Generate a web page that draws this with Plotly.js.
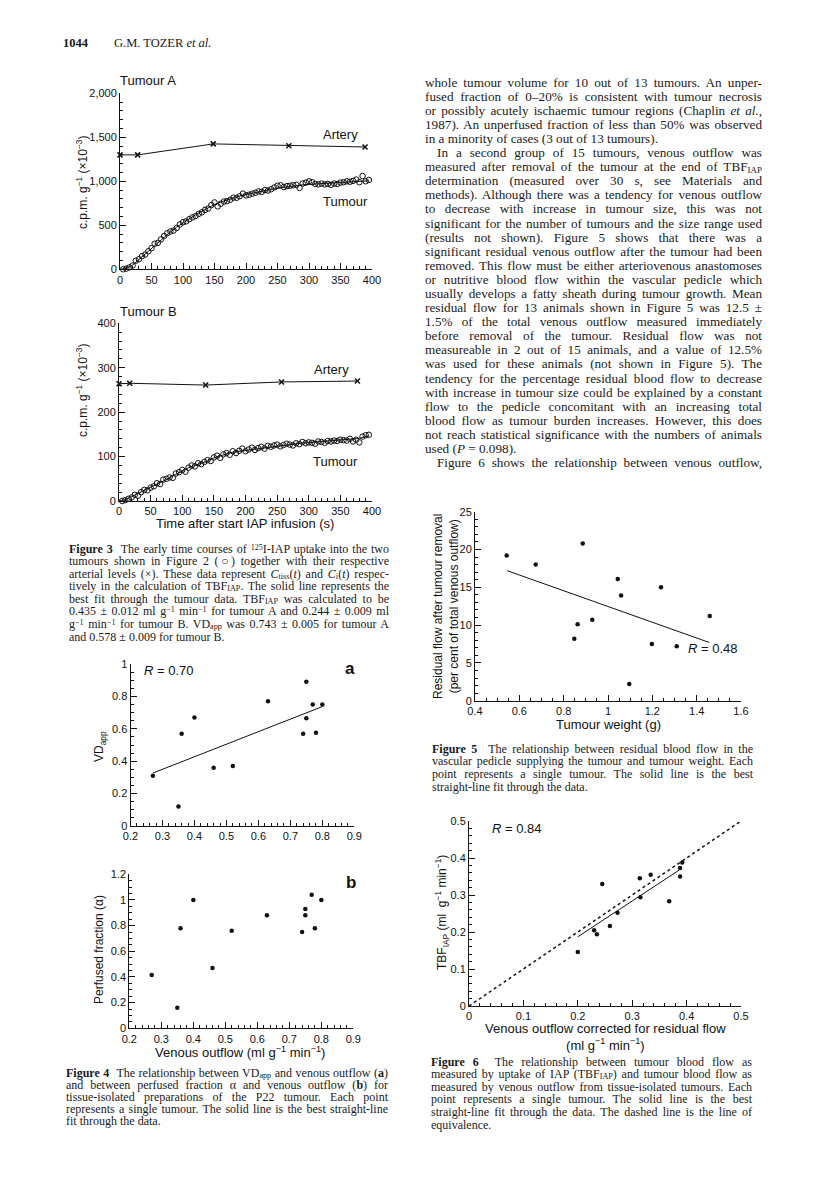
<!DOCTYPE html>
<html>
<head>
<meta charset="utf-8">
<script src="https://cdn.plot.ly/plotly-3.0.1.min.js"></script>
<style>
body { margin: 0; background: #fff; }
#page { position: relative; width: 816px; height: 1182px; overflow: hidden; }
#chart { position: absolute; left: 0; top: 0; width: 816px; height: 1182px; }
.txt { position: absolute; font-family: "Liberation Serif", "Times New Roman", serif; color: #1a1a1a; }
.txt div { white-space: nowrap; text-align: justify; text-align-last: justify; }
.txt div.end { text-align-last: left; }
.txt div.ind { padding-left: 12px; }
sub, sup { font-size: 68%; line-height: 0; }
sub { vertical-align: -0.18em; }
sup { vertical-align: 0.38em; }
</style>
</head>
<body>
<div id="page">
<div id="chart"></div>

<div class="txt" style="left:63px; top:36px; font-size:12.5px;"><b>1044</b><span style="padding-left:26px">G.M. TOZER <i>et al.</i></span></div>

<div class="txt" style="left:425px; top:75.6px; width:337px; font-size:13.2px; line-height:14.1px;">
<div>whole tumour volume for 10 out of 13 tumours. An unper-</div>
<div>fused fraction of 0–20% is consistent with tumour necrosis</div>
<div>or possibly acutely ischaemic tumour regions (Chaplin <i>et al.</i>,</div>
<div>1987). An unperfused fraction of less than 50% was observed</div>
<div class="end">in a minority of cases (3 out of 13 tumours).</div>
<div class="ind">In a second group of 15 tumours, venous outflow was</div>
<div>measured after removal of the tumour at the end of TBF<sub>IAP</sub></div>
<div>determination (measured over 30 s, see Materials and</div>
<div>methods). Although there was a tendency for venous outflow</div>
<div>to decrease with increase in tumour size, this was not</div>
<div>significant for the number of tumours and the size range used</div>
<div>(results not shown). Figure 5 shows that there was a</div>
<div>significant residual venous outflow after the tumour had been</div>
<div>removed. This flow must be either arteriovenous anastomoses</div>
<div>or nutritive blood flow within the vascular pedicle which</div>
<div>usually develops a fatty sheath during tumour growth. Mean</div>
<div>residual flow for 13 animals shown in Figure 5 was 12.5 ±</div>
<div>1.5% of the total venous outflow measured immediately</div>
<div>before removal of the tumour. Residual flow was not</div>
<div>measureable in 2 out of 15 animals, and a value of 12.5%</div>
<div>was used for these animals (not shown in Figure 5). The</div>
<div>tendency for the percentage residual blood flow to decrease</div>
<div>with increase in tumour size could be explained by a constant</div>
<div>flow to the pedicle concomitant with an increasing total</div>
<div>blood flow as tumour burden increases. However, this does</div>
<div>not reach statistical significance with the numbers of animals</div>
<div class="end">used (<i>P</i> = 0.098).</div>
<div class="ind">Figure 6 shows the relationship between venous outflow,</div>
</div>

<div class="txt" style="left:69px; top:542.5px; width:320px; font-size:12px; line-height:12.6px;">
<div><b>Figure 3</b>&nbsp;&nbsp;The early time courses of <sup>125</sup>I-IAP uptake into the two</div>
<div>tumours shown in Figure 2 (○) together with their respective</div>
<div>arterial levels (×). These data represent <i>C</i><sub>tiss</sub>(<i>t</i>) and <i>C</i><sub>i</sub>(<i>t</i>) respec-</div>
<div>tively in the calculation of TBF<sub>IAP</sub>. The solid line represents the</div>
<div>best fit through the tumour data. TBF<sub>IAP</sub> was calculated to be</div>
<div>0.435 ± 0.012 ml g<sup>−1</sup> min<sup>−1</sup> for tumour A and 0.244 ± 0.009 ml</div>
<div>g<sup>−1</sup> min<sup>−1</sup> for tumour B. VD<sub>app</sub> was 0.743 ± 0.005 for tumour A</div>
<div class="end">and 0.578 ± 0.009 for tumour B.</div>
</div>

<div class="txt" style="left:66px; top:1067px; width:322px; font-size:12px; line-height:12px;">
<div><b>Figure 4</b>&nbsp;&nbsp;The relationship between VD<sub>app</sub> and venous outflow (<b>a</b>)</div>
<div>and between perfused fraction α and venous outflow (<b>b</b>) for</div>
<div>tissue-isolated preparations of the P22 tumour. Each point</div>
<div>represents a single tumour. The solid line is the best straight-line</div>
<div class="end">fit through the data.</div>
</div>

<div class="txt" style="left:432px; top:742.6px; width:321px; font-size:12px; line-height:12.8px;">
<div><b>Figure 5</b>&nbsp;&nbsp;The relationship between residual blood flow in the</div>
<div>vascular pedicle supplying the tumour and tumour weight. Each</div>
<div>point represents a single tumour. The solid line is the best</div>
<div class="end">straight-line fit through the data.</div>
</div>

<div class="txt" style="left:431px; top:1055.7px; width:321px; font-size:12px; line-height:12.6px;">
<div><b>Figure 6</b>&nbsp;&nbsp;The relationship between tumour blood flow as</div>
<div>measured by uptake of IAP (TBF<sub>IAP</sub>) and tumour blood flow as</div>
<div>measured by venous outflow from tissue-isolated tumours. Each</div>
<div>point represents a single tumour. The solid line is the best</div>
<div>straight-line fit through the data. The dashed line is the line of</div>
<div class="end">equivalence.</div>
</div>
</div>

<script>
// Figure 3, tumour A (time in s, c.p.m. g-1 x10-3)
const timeA = [5,10,15,20,25,30,35,40,45,50,55,60,65,70,75,80,85,90,95,100,105,110,115,120,125,130,135,140,145,150,155,160,165,170,175,180,185,190,195,200,205,210,215,220,225,230,235,240,245,250,255,260,265,270,275,280,285,290,295,300,305,310,315,320,325,330,335,340,345,350,355,360,365,370,375,380,385,390,395];
const tumourA = [0,8,22,42,98,115,150,168,205,240,290,300,340,378,410,430,440,470,510,535,545,570,590,605,630,648,675,690,730,760,715,745,770,775,790,815,812,830,860,840,848,860,870,885,880,900,895,910,930,950,955,935,945,950,955,960,925,975,985,1000,990,970,965,975,965,970,960,975,970,985,990,1000,995,1005,1020,990,1060,1000,1015];
const fitTimeA = [0,10,20,30,40,50,60,70,80,90,100,110,120,130,140,150,160,170,180,190,200,210,220,230,240,250,260,270,280,290,300,310,320,330,340,350,360,370,380,390,395];
const fitA = [0,10,48,110,175,245,305,365,425,480,530,575,620,660,700,735,765,790,812,832,850,866,880,895,908,920,933,943,952,960,966,971,975,979,983,987,991,995,999,1003,1005];
const arteryTimeA = [0,28,148,268,389];
const arteryA = [1300,1300,1425,1405,1390];

// Figure 3, tumour B
const timeB = [5,10,15,20,25,30,35,40,45,50,55,60,65,70,75,80,85,90,95,100,105,110,115,120,125,130,135,140,145,150,155,160,165,170,175,180,185,190,195,200,205,210,215,220,225,230,235,240,245,250,255,260,265,270,275,280,285,290,295,300,305,310,315,320,325,330,335,340,345,350,355,360,365,370,375,380,385,390,395];
const tumourB = [0,2,5,8,14,12,20,25,24,30,33,40,38,48,50,53,52,62,65,70,66,75,80,78,85,83,88,92,90,98,102,97,105,108,104,112,108,113,118,112,116,120,115,119,122,118,124,122,125,127,123,126,129,127,125,130,128,133,130,132,131,129,134,133,131,135,134,136,135,138,137,136,140,134,138,132,145,148,149];
const fitTimeB = [0,10,20,30,40,50,60,70,80,90,100,110,120,130,140,150,160,170,180,190,200,210,220,230,240,250,260,270,280,290,300,310,320,330,340,350,360,370,380,390,395];
const fitB = [0,3,10,17,24,30,38,45,52,60,68,75,80,85,90,97,102,106,110,112,114,116,118,120,122,124,126,128,129,130.5,131.5,132.5,133.5,134.5,135.5,136.5,137.5,139,141,145,147];
const arteryTimeB = [0,17,137,257,377];
const arteryB = [264,265,261,268,270];

// Figure 4: venous outflow (ml g-1 min-1) vs VDapp (a) and perfused fraction (b)
const venous = [0.27,0.35,0.36,0.40,0.46,0.52,0.63,0.74,0.75,0.75,0.77,0.78,0.80];
const vdApp = [0.31,0.12,0.57,0.67,0.36,0.37,0.77,0.57,0.89,0.665,0.75,0.575,0.75];
const perfused = [0.415,0.16,0.78,1.0,0.47,0.76,0.88,0.75,0.93,0.88,1.04,0.78,1.0];
const fitVenous4a = [0.27,0.80];
const fitVd4a = [0.327,0.737];

// Figure 5: tumour weight (g) vs residual flow (%)
const weight = [0.543,0.674,0.848,0.863,0.886,0.929,1.044,1.059,1.096,1.198,1.239,1.310,1.459];
const residual = [19.2,18.0,8.2,10.1,20.8,10.7,16.1,13.9,2.2,7.5,15.0,7.2,11.2];
const fitWeight5 = [0.545,1.457];
const fitResidual5 = [17.2,7.7];

// Figure 6: corrected venous outflow vs TBF_IAP
const corrected = [0.200,0.230,0.235,0.245,0.259,0.273,0.314,0.315,0.334,0.368,0.388,0.388,0.392];
const tbf = [0.146,0.205,0.194,0.330,0.216,0.252,0.345,0.294,0.355,0.283,0.373,0.350,0.388];
const fitCorrected6 = [0.2,0.387];
const fitTbf6 = [0.187,0.368];
const equivX = [0,0.5];
const equivY = [0,0.5];

const W = 816, H = 1182;
const sans = '"Liberation Sans", Arial, sans-serif';

// pixel box -> paper domain
function xdom(a, b) { return [a / W, b / W]; }
function ydom(top, bottom) { return [1 - bottom / H, 1 - top / H]; }

function axis(range, dtick, minor, domain, anchor, extra) {
    return Object.assign({
        range: range,
        domain: domain,
        anchor: anchor,
        dtick: dtick,
        tick0: 0,
        showline: true,
        linecolor: '#111',
        linewidth: 1,
        ticks: 'inside',
        ticklen: 6,
        tickwidth: 1,
        tickcolor: '#111',
        minor: { ticks: 'inside', ticklen: 3, tickwidth: 1, tickcolor: '#111', dtick: minor, tick0: 0, showgrid: false },
        showgrid: false,
        zeroline: false,
        fixedrange: true,
        tickfont: { family: sans, size: 11, color: '#111' }
    }, extra || {});
}

const black = '#111';
const openCircle = { symbol: 'circle-open', size: 5.5, color: black, line: { width: 1, color: black } };
const dot = { symbol: 'circle', size: 4.5, color: black };
const cross = { symbol: 'x-thin-open', size: 5, color: black, line: { width: 1.5, color: black } };
const solid = { color: black, width: 1 };

const traces = [
    { x: arteryTimeA, y: arteryA, mode: 'lines+markers', line: solid, marker: cross, xaxis: 'x', yaxis: 'y', cliponaxis: false },
    { x: fitTimeA, y: fitA, mode: 'lines', line: solid, xaxis: 'x', yaxis: 'y' },
    { x: timeA, y: tumourA, mode: 'markers', marker: openCircle, xaxis: 'x', yaxis: 'y', cliponaxis: false },

    { x: arteryTimeB, y: arteryB, mode: 'lines+markers', line: solid, marker: cross, xaxis: 'x2', yaxis: 'y2', cliponaxis: false },
    { x: fitTimeB, y: fitB, mode: 'lines', line: solid, xaxis: 'x2', yaxis: 'y2' },
    { x: timeB, y: tumourB, mode: 'markers', marker: openCircle, xaxis: 'x2', yaxis: 'y2', cliponaxis: false },

    { x: venous, y: vdApp, mode: 'markers', marker: dot, xaxis: 'x3', yaxis: 'y3' },
    { x: fitVenous4a, y: fitVd4a, mode: 'lines', line: solid, xaxis: 'x3', yaxis: 'y3' },

    { x: venous, y: perfused, mode: 'markers', marker: dot, xaxis: 'x4', yaxis: 'y4' },

    { x: weight, y: residual, mode: 'markers', marker: dot, xaxis: 'x5', yaxis: 'y5' },
    { x: fitWeight5, y: fitResidual5, mode: 'lines', line: solid, xaxis: 'x5', yaxis: 'y5' },

    { x: equivX, y: equivY, mode: 'lines', line: { color: black, width: 1.5, dash: 'dot' }, xaxis: 'x6', yaxis: 'y6' },
    { x: fitCorrected6, y: fitTbf6, mode: 'lines', line: solid, xaxis: 'x6', yaxis: 'y6' },
    { x: corrected, y: tbf, mode: 'markers', marker: dot, xaxis: 'x6', yaxis: 'y6' }
];
traces.forEach(t => { t.type = 'scatter'; t.hoverinfo = 'skip'; t.showlegend = false; });

// annotation centred on a pixel position of the page
function note(text, px, py, opts) {
    return Object.assign({
        text: text, x: px / W, y: 1 - py / H, xref: 'paper', yref: 'paper',
        xanchor: 'center', yanchor: 'middle',
        showarrow: false, font: { family: sans, size: 12, color: '#111' }
    }, opts || {});
}

const big = { family: sans, size: 13, color: '#111' };

const annotations = [
    note('Tumour A', 118, 80, { xanchor: 'left', font: big }),
    note('Artery', 340, 135, { font: big }),
    note('Tumour', 345, 201, { font: big }),
    note('c.p.m. g<sup>−1</sup> (×10<sup>−3</sup>)', 82, 182, { textangle: -90 }),

    note('Tumour B', 118, 311, { xanchor: 'left', font: big }),
    note('Artery', 331, 369, { font: big }),
    note('Tumour', 335, 461, { font: big }),
    note('c.p.m. g<sup>−1</sup> (×10<sup>−3</sup>)', 82, 390, { textangle: -90 }),
    note('Time after start IAP infusion (s)', 245, 523, { font: big }),

    note('<i>R</i> = 0.70', 142, 670, { xanchor: 'left', font: big }),
    note('<b>a</b>', 350, 668, { font: { family: sans, size: 17, color: '#111' } }),
    note('VD<sub>app</sub>', 100, 747, { textangle: -90 }),

    note('<b>b</b>', 351, 882, { font: { family: sans, size: 17, color: '#111' } }),
    note('Perfused fraction (α)', 99, 950, { textangle: -90 }),
    note('Venous outflow (ml g<sup>−1</sup> min<sup>−1</sup>)', 240, 1052, { font: big }),

    note('Residual flow after tumour removal<br>(per cent of total venous outflow)', 446, 606, { textangle: -90 }),
    note('Tumour weight (g)', 608, 724, { font: big }),
    note('<i>R</i> = 0.48', 713, 648, { font: big }),

    note('<i>R</i> = 0.84', 490, 828, { xanchor: 'left', font: big }),
    note('TBF<sub>IAP</sub> (ml  g<sup>−1</sup> min<sup>−1</sup>)', 442, 912, { textangle: -90 }),
    note('Venous outflow corrected for residual flow<br>(ml g<sup>−1</sup> min<sup>−1</sup>)', 605, 1037, { font: big })
];

const layout = {
    width: W,
    height: H,
    autosize: false,
    margin: { l: 0, r: 0, t: 0, b: 0, pad: 0 },
    showlegend: false,
    paper_bgcolor: 'rgba(0,0,0,0)',
    plot_bgcolor: 'rgba(0,0,0,0)',
    font: { family: sans, size: 11, color: '#111' },
    xaxis: axis([0, 400], 50, 10, xdom(120, 372), 'y'),
    yaxis: axis([0, 2000], 500, 100, ydom(93.3, 269.3), 'x', { tickformat: ',' }),
    xaxis2: axis([0, 400], 50, 10, xdom(119, 372), 'y2'),
    yaxis2: axis([0, 400], 100, 20, ydom(323.3, 501), 'x2'),
    xaxis3: axis([0.2, 0.9], 0.1, 0.02, xdom(130.5, 354.3), 'y3'),
    yaxis3: axis([0, 1], 0.2, 0.05, ydom(664, 826), 'x3'),
    xaxis4: axis([0.2, 0.9], 0.1, 0.02, xdom(129.3, 353.3), 'y4'),
    yaxis4: axis([0, 1.2], 0.2, 0.05, ydom(874.3, 1028.3), 'x4'),
    xaxis5: axis([0.4, 1.6], 0.2, 0.05, xdom(475, 741), 'y5'),
    yaxis5: axis([0, 25], 5, 1, ydom(511.7, 700.7), 'x5'),
    xaxis6: axis([0, 0.5], 0.1, 0.02, xdom(469, 741), 'y6'),
    yaxis6: axis([0, 0.5], 0.1, 0.02, ydom(821, 1006), 'x6'),
    annotations: annotations
};

Plotly.newPlot('chart', traces, layout, { displayModeBar: false, staticPlot: true });
</script>
</body>
</html>
